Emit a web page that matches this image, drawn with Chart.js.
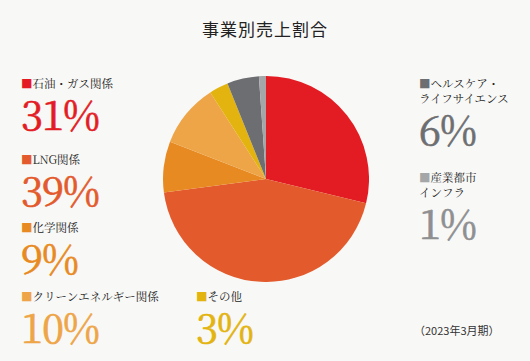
<!DOCTYPE html>
<html>
<head>
<meta charset="utf-8">
<script src="https://cdn.jsdelivr.net/npm/chart.js@4/dist/chart.umd.min.js"></script>
<style>
  html, body { margin: 0; padding: 0; }
  body {
    width: 530px; height: 361px; position: relative; overflow: hidden;
    background: #f8f8f6;
    font-family: "Noto Sans CJK JP", sans-serif;
  }
  #title {
    position: absolute; left: 0; width: 530px; top: 16px; text-align: center;
    font-size: 17px; color: #222; letter-spacing: 1px;
  }
  #pieBox { position: absolute; left: 163px; top: 76px; width: 206px; height: 206px; }
  .item { position: absolute; }
  .name {
    font-family: "Noto Serif CJK JP", "Noto Sans CJK JP", serif;
    font-size: 11.5px; line-height: 15px; color: #222; white-space: nowrap;
  }
  .pct {
    font-family: "Noto Serif CJK JP", "Liberation Serif", serif;
    font-size: 40px; line-height: 40px; margin-top: 2px; letter-spacing: -1px;
    -webkit-text-stroke: 0.7px currentColor;
  }
  #period { position: absolute; left: 414px; top: 322px; font-size: 11px; color: #333; }
</style>
</head>
<body>
<div id="title">事業別売上割合</div>
<div id="pieBox"><canvas id="pie" width="206" height="206"></canvas></div>
<div id="labels"></div>
<div id="period">（2023年3月期）</div>
<script>
// 事業別の名称と表示上の割合
const segments = ['石油・ガス関係', 'LNG関係', '化学関係', 'クリーンエネルギー関係', 'その他', 'ヘルスケア・\nライフサイエンス', '産業都市\nインフラ'];
const shareLabels = ['31%', '39%', '9%', '10%', '3%', '6%', '1%'];
// 円グラフの扇形（図から読み取った角度）
const pieValues = [28.8, 44.1, 8.0, 10.0, 3.0, 5.0, 1.1];
const colors = ['#e31c24', '#e35a2c', '#e88a22', '#eea547', '#e3b30f', '#6d6e71', '#a5a6a8'];
const textColors = ['#e31c24', '#e35a2c', '#e88a22', '#eea547', '#e3b30f', '#6d6e71', '#8e8f91'];

// ラベルの配置
const labelPos = [
  { x: 21, y: 76 },
  { x: 21, y: 152 },
  { x: 21, y: 220 },
  { x: 21, y: 289 },
  { x: 196, y: 289 },
  { x: 419, y: 76 },
  { x: 419, y: 170 }
];

const wrap = document.getElementById('labels');
segments.forEach((name, i) => {
  const div = document.createElement('div');
  div.className = 'item';
  div.style.left = labelPos[i].x + 'px';
  div.style.top = labelPos[i].y + 'px';
  const nameDiv = document.createElement('div');
  nameDiv.className = 'name';
  nameDiv.innerHTML = '<span style="color:' + colors[i] + '">■</span>' + name.split('\n').join('<br>');
  const pct = document.createElement('div');
  pct.className = 'pct';
  pct.style.color = textColors[i];
  pct.textContent = shareLabels[i];
  div.appendChild(nameDiv);
  div.appendChild(pct);
  wrap.appendChild(div);
});

new Chart(document.getElementById('pie'), {
  type: 'pie',
  data: {
    labels: segments,
    datasets: [{
      data: pieValues,
      backgroundColor: colors,
      borderWidth: 0
    }]
  },
  options: {
    responsive: false,
    animation: false,
    layout: { padding: 0 },
    plugins: {
      legend: { display: false },
      tooltip: { enabled: false }
    },
    events: []
  }
});
</script>
</body>
</html>
